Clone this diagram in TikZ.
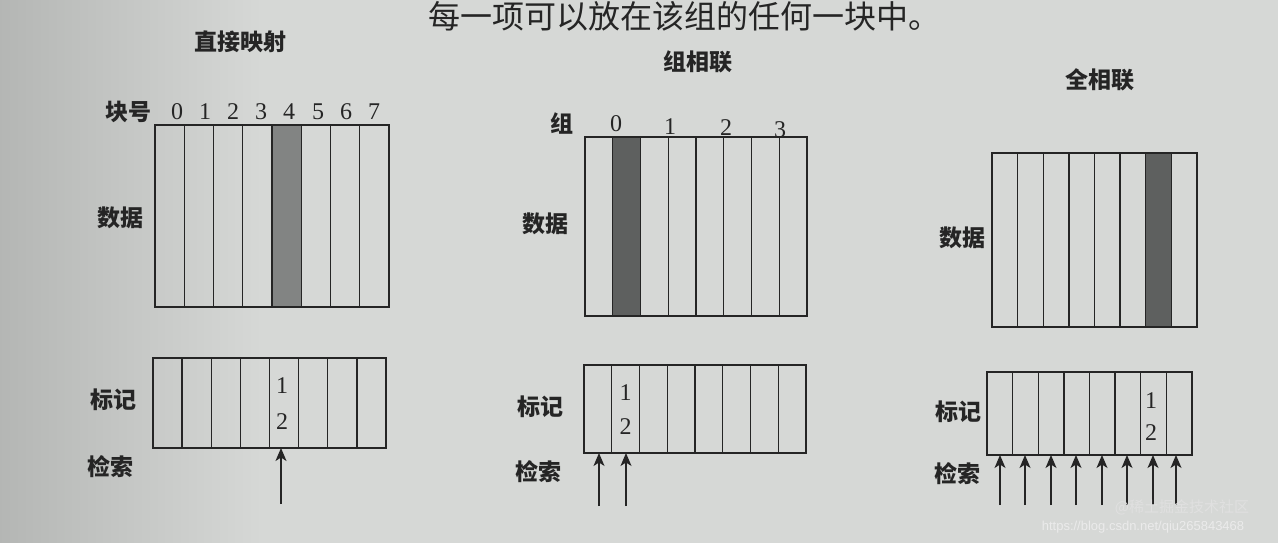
\documentclass[tikz,border=0pt]{standalone}
\usepackage{fontspec}
\setmainfont{Liberation Serif}
\newfontfamily\cjk{Noto Sans CJK SC}
\newfontfamily\wmfont{Liberation Sans}
\usetikzlibrary{arrows.meta}
\definecolor{paper}{HTML}{D6D8D6}
\definecolor{paperdark}{HTML}{B4B6B4}
\definecolor{ink}{HTML}{252525}
\definecolor{shadeA}{HTML}{828483}
\definecolor{shadeB}{HTML}{5E605F}
\tikzset{
  boxline/.style={draw=ink, line width=1.6pt},
  colline/.style={draw=ink, line width=1.3pt},
  title/.style={font=\cjk\bfseries\fontsize{23}{23}\selectfont, text=ink, inner sep=0pt},
  lab/.style={font=\cjk\bfseries\fontsize{23}{23}\selectfont, text=ink, inner sep=0pt},
  num/.style={font=\fontsize{24}{24}\selectfont, text=ink, inner sep=0pt},
  arr/.style={draw=ink, line width=1.3pt, -{Stealth[length=13pt,width=11pt,inset=3.5pt]}},
  bodytext/.style={font=\cjk\fontsize{32}{32}\selectfont, text=ink, inner sep=0pt, anchor=west},
  wm/.style={font=\wmfont\fontsize{13}{13}\selectfont, text=white!92!black, inner sep=0pt},
}
\begin{document}
\begin{tikzpicture}[x=1pt,y=-1pt]
\useasboundingbox (0,0) rectangle (1278,542);
% background (paper)
\fill[paper] (-2,-2) rectangle (1280,544);
\shade[left color=paperdark, right color=paper] (-2,-2) rectangle (262,544);

% cropped body text at top
\node[bodytext] (body) at (428,16) {每一项可以放在该组的任何一块中。};

% ================= Direct mapped =================
\node[title] (t1) at (240,42) {直接映射};
\node[lab] (kh) at (128,112) {块号};
\foreach \i/\xx in {0/177,1/205,2/233,3/261,4/289,5/318,6/346,7/374}{
  \node[num] (bn\i) at (\xx,112) {\i};
}
% data box
\fill[shadeA] (155+4*29.25,125) rectangle (155+5*29.25,307);
\foreach \i in {1,...,7}{ \draw[colline] (155+\i*29.25,125) -- (155+\i*29.25,307); }
\draw[boxline] (155,125) rectangle (389,307);
\node[lab] (d1) at (120,218) {数据};
% tag box
\foreach \i in {1,...,7}{ \draw[colline] (153+\i*29.125,358) -- (153+\i*29.125,448); }
\draw[boxline] (153,358) rectangle (386,448);
\node[num] (a1n1) at (282,386) {1};
\node[num] (a1n2) at (282,422) {2};
\node[lab] (m1) at (113,400) {标记};
\node[lab] (s1) at (110,467) {检索};
\coordinate (a1s) at (281,504);
\coordinate (a1t) at (281,448);
\draw[arr] (a1s) -- (a1t);

% ================= Set associative =================
\node[title] (t2) at (698,62) {组相联};
\node[lab] (zu) at (562,123) {组};
\foreach \i/\xx/\yy in {0/616/124,1/670/127,2/726/128,3/780/130}{
  \node[num] (gn\i) at (\xx,\yy) {\i};
}
\fill[shadeB] (585+27.75,137) rectangle (585+2*27.75,316);
\foreach \i in {1,...,7}{ \draw[colline] (585+\i*27.75,137) -- (585+\i*27.75,316); }
\draw[boxline] (585,137) rectangle (807,316);
\node[lab] (d2) at (545,224) {数据};
\foreach \i in {1,...,7}{ \draw[colline] (584+\i*27.75,365) -- (584+\i*27.75,453); }
\draw[boxline] (584,365) rectangle (806,453);
\node[num] (a2n1) at (625.6,393) {1};
\node[num] (a2n2) at (625.6,427) {2};
\node[lab] (m2) at (540,407) {标记};
\node[lab] (s2) at (538,472) {检索};
\coordinate (a2s1) at (599,506);
\coordinate (a2t1) at (599,453);
\coordinate (a2s2) at (626,506);
\coordinate (a2t2) at (626,453);
\draw[arr] (a2s1) -- (a2t1);
\draw[arr] (a2s2) -- (a2t2);

% ================= Fully associative =================
\node[title] (t3) at (1100,80) {全相联};
\fill[shadeB] (992+6*25.625,153) rectangle (992+7*25.625,327);
\foreach \i in {1,...,7}{ \draw[colline] (992+\i*25.625,153) -- (992+\i*25.625,327); }
\draw[boxline] (992,153) rectangle (1197,327);
\node[lab] (d3) at (962,238) {数据};
\foreach \i in {1,...,7}{ \draw[colline] (987+\i*25.625,372) -- (987+\i*25.625,455); }
\draw[boxline] (987,372) rectangle (1192,455);
\node[num] (a3n1) at (1151,401) {1};
\node[num] (a3n2) at (1151,433) {2};
\node[lab] (m3) at (958,412) {标记};
\node[lab] (s3) at (957,474) {检索};
\foreach \i/\xx in {0/1000,1/1025,2/1051,3/1076,4/1102,5/1127,6/1153,7/1176}{
  \coordinate (a3s\i) at (\xx,505);
  \coordinate (a3t\i) at (\xx,455);
  \draw[arr] (a3s\i) -- (a3t\i);
}

% watermark
\node[font=\cjk\fontsize{15}{15}\selectfont, text=white!88!black, inner sep=0pt] (wm1) at (1182,507) {@稀土掘金技术社区};
\node[wm] (wm2) at (1143,527) {https://blog.csdn.net/qiu265843468};
\end{tikzpicture}
\end{document}
